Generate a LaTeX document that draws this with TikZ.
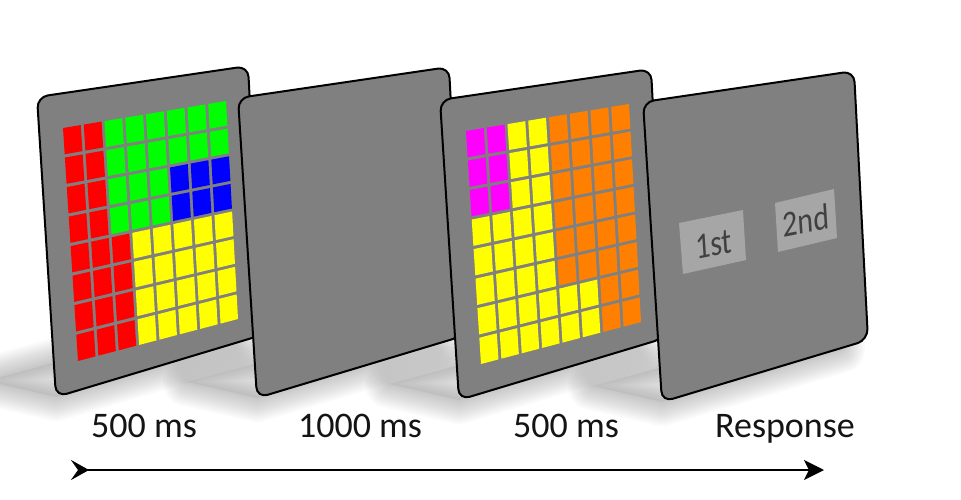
\documentclass[tikz,border=0pt]{standalone}
\usepackage{fontspec}
\setmainfont{Carlito}
\usetikzlibrary{calc,arrows.meta}
\definecolor{cR}{HTML}{FF0000}
\definecolor{cG}{HTML}{00FF00}
\definecolor{cB}{HTML}{0000FF}
\definecolor{cY}{HTML}{FFFF00}
\definecolor{cM}{HTML}{FF00FF}
\definecolor{cO}{HTML}{FF8000}
\definecolor{panelgray}{HTML}{808080}
\definecolor{boxgray}{HTML}{A6A6A6}
\definecolor{boxtext}{HTML}{404040}
\def\cw{0.10925}\def\gu{0.018}
\def\ch{0.11275}\def\gv{0.014}
% shadow + panel body, #1 prefix, #2 x, #3 y
\newcommand\drawpanel[3]{%
  \begin{scope}[shift={(#2,#3)}]
    \foreach \w in {48,44,...,4}
      \path[shadowlayer, line width=\w pt]
        (19,300) -- (198,247) -- (138,233) -- (-51,284) -- cycle;
    \fill[black, fill opacity=0.05] (19,300) -- (198,247) -- (138,233) -- (-51,284) -- cycle;
    \draw[panel] (0,0) -- (211,-31) -- (225,238) -- (19,300) -- cycle;
    \coordinate (#1A) at (26,31);
    \coordinate (#1B) at (189,4);
    \coordinate (#1C) at (41,264);
    \coordinate (#1D) at (201,222);
  \end{scope}}
% 8x8 grid of cells on panel #1, rows of colours #2
\newcommand\cellgrid[2]{%
  \foreach \rowlist [count=\ri from 0] in {#2} {
    \foreach \cc [count=\ci from 0] in \rowlist {
      \pgfmathsetmacro\ua{\ci*(\cw+\gu)}
      \pgfmathsetmacro\ub{\ua+\cw}
      \pgfmathsetmacro\va{\ri*(\ch+\gv)}
      \pgfmathsetmacro\vb{\va+\ch}
      \fill[\cc]
        ($ ($(#1A)!\ua!(#1B)$)!\va!($(#1C)!\ua!(#1D)$) $) --
        ($ ($(#1A)!\ub!(#1B)$)!\va!($(#1C)!\ub!(#1D)$) $) --
        ($ ($(#1A)!\ub!(#1B)$)!\vb!($(#1C)!\ub!(#1D)$) $) --
        ($ ($(#1A)!\ua!(#1B)$)!\vb!($(#1C)!\ua!(#1D)$) $) -- cycle;
    }
  }}
\begin{document}
\begin{tikzpicture}[x=1pt,y=-1pt,
  panel/.style={fill=panelgray,draw=black,line width=2pt,rounded corners=11pt},
  shadowlayer/.style={draw=black,draw opacity=0.018,line join=round},
  lab/.style={font=\fontsize{36}{40}\selectfont,text=black!92,anchor=base,inner sep=0pt},
  boxtxt/.style={font=\fontsize{37}{40}\selectfont,text=boxtext,anchor=base,inner sep=0pt,
                 yslant=0.2,xscale=0.8,xslant=-0.08}]
\useasboundingbox (0,0) rectangle (961,500);

% panel 1
\drawpanel{p}{37}{97}
\cellgrid{p}{{cR,cR,cG,cG,cG,cG,cG,cG},{cR,cR,cG,cG,cG,cG,cG,cG},
             {cR,cR,cG,cG,cG,cB,cB,cB},{cR,cR,cG,cG,cG,cB,cB,cB},
             {cR,cR,cR,cY,cY,cY,cY,cY},{cR,cR,cR,cY,cY,cY,cY,cY},
             {cR,cR,cR,cY,cY,cY,cY,cY},{cR,cR,cR,cY,cY,cY,cY,cY}}

% panel 2
\drawpanel{q}{238}{98}

% panel 3
\drawpanel{r}{440}{100}
\cellgrid{r}{{cM,cM,cY,cY,cO,cO,cO,cO},{cM,cM,cY,cY,cO,cO,cO,cO},
             {cM,cM,cY,cY,cO,cO,cO,cO},{cY,cY,cY,cY,cO,cO,cO,cO},
             {cY,cY,cY,cY,cO,cO,cO,cO},{cY,cY,cY,cY,cO,cO,cO,cO},
             {cY,cY,cY,cY,cY,cY,cO,cO},{cY,cY,cY,cY,cY,cY,cO,cO}}

% panel 4
\drawpanel{s}{643}{102}
\fill[boxgray] (679,223) -- (743,210) -- (746,260) -- (683,274) -- cycle;
\fill[boxgray] (775,203) -- (834,189) -- (837,238) -- (778,252) -- cycle;
\node[boxtxt] (b1) at (714.5,256) {1st};
\node[boxtxt] (b2) at (807,232.5) {2nd};

% labels
\node[lab] (l1) at (144,437) {500 ms};
\node[lab] (l2) at (360,437) {1000 ms};
\node[lab] (l3) at (566,437) {500 ms};
\node[lab] (l4) at (785,437) {Response};

% time arrow
\coordinate (t0) at (71,470);
\coordinate (t1) at (824,470);
\draw[line width=2.5pt,
  {Stealth[reversed,length=18pt,width=20pt,inset=7pt]}-{Stealth[length=20pt,width=20pt,inset=5pt]}]
  (t0) -- (t1);
\end{tikzpicture}
\end{document}
